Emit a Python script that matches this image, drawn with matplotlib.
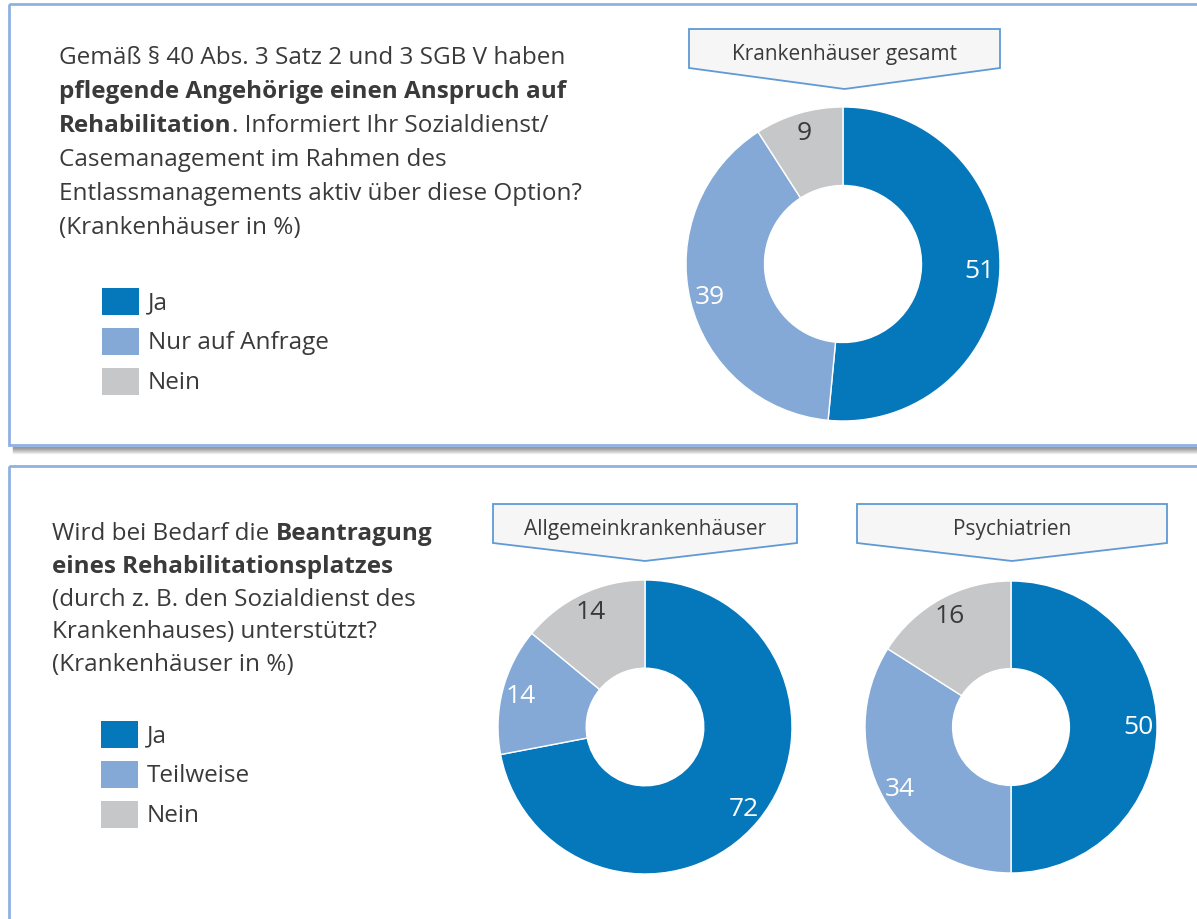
import numpy as np
import matplotlib
matplotlib.use("Agg")
import matplotlib.pyplot as plt
from matplotlib.patches import Polygon, Rectangle

# ─── Daten ───
top_labels = ["Ja", "Nur auf Anfrage", "Nein"]
top_values = [51, 39, 9]
top_title = "Krankenhäuser gesamt"

bottom_labels = ["Ja", "Teilweise", "Nein"]
allg_values = [72, 14, 14]
allg_title = "Allgemeinkrankenhäuser"
psych_values = [50, 34, 16]
psych_title = "Psychiatrien"

colors = ["#0577bb", "#84a9d6", "#c6c7c9"]
num_colors = ["white", "white", "#3a3a3a"]
text_col = "#3a3a3a"
frame_col = "#8fb1e2"
box_edge = "#5f9ad6"

W, H = 1197, 920
FONT = ["Open Sans", "DejaVu Sans"]
FS = 17.5
plt.rcParams["font.family"] = FONT

fig = plt.figure(figsize=(W / 100, H / 100), dpi=100)
bg = fig.add_axes([0, 0, 1, 1])
bg.set_xlim(0, W)
bg.set_ylim(H, 0)
bg.axis("off")

# ─── Rahmen ───
for i in range(7):
    bg.plot([13, W], [448 + i, 448 + i], color="#5f5f5f", alpha=0.6 * (1 - i / 7), lw=1, zorder=1)
bg.add_patch(Rectangle((9, 5), W + 20, 441, fill=False, ec=frame_col, lw=2, zorder=2))
bg.add_patch(Rectangle((9, 467), W + 20, 500, fill=False, ec=frame_col, lw=2, zorder=2))


def rich_line(x, y, parts):
    # parts: list of (text, bold)
    r = fig.canvas.get_renderer()
    for s, b in parts:
        t = bg.text(x, y, s, fontsize=FS, color=text_col, va="baseline", ha="left",
                    fontweight="bold" if b else "normal")
        bb = t.get_window_extent(renderer=r)
        x += bb.width


def donut(cx, cy, R, width, values, title, box):
    ax = fig.add_axes([(cx - R) / W, 1 - (cy + R) / H, 2 * R / W, 2 * R / H])
    ax.pie(values, colors=colors, startangle=90, counterclock=False,
           wedgeprops=dict(width=width, edgecolor="white", linewidth=1))
    ax.set_xlim(-1, 1)
    ax.set_ylim(-1, 1)
    total = sum(values)
    cum = 0
    for v, c in zip(values, num_colors):
        ang = np.deg2rad(90 - 360 * (cum + v / 2) / total)
        ax.text(0.87 * np.cos(ang), 0.87 * np.sin(ang), str(v), ha="center", va="center",
                fontsize=19, color=c)
        cum += v
    x0, x1, y0, y1, yt = box
    xt = (x0 + x1) / 2
    bg.add_patch(Polygon([(x0, y0), (x1, y0), (x1, y1), (xt, yt), (x0, y1)],
                         closed=True, fc="#f6f6f6", ec=box_edge, lw=1.3, zorder=3))
    bg.text(xt, (y0 + y1) / 2 + 5, title, ha="center", va="center", fontsize=FS * 0.86,
            color=text_col, zorder=4)


def legend(x, y0, labels):
    for i, (lab, c) in enumerate(zip(labels, colors)):
        y = y0 + 40 * i
        bg.add_patch(Rectangle((x, y), 37, 27, fc=c, ec="none", zorder=3))
        bg.text(x + 46, y + 14, lab, fontsize=FS, color=text_col, va="center", ha="left")


# ─── oberer Teil ───
tx = 59
lines_top = [
    [("Gemäß § 40 Abs. 3 Satz 2 und 3 SGB V haben", False)],
    [("pflegende Angehörige einen Anspruch auf", True)],
    [("Rehabilitation", True), (". Informiert Ihr Sozialdienst/", False)],
    [("Casemanagement im Rahmen des", False)],
    [("Entlassmanagements aktiv über diese Option?", False)],
    [("(Krankenhäuser in %)", False)],
]
for i, parts in enumerate(lines_top):
    rich_line(tx, 64 + 34 * i, parts)
legend(102, 289, top_labels)
donut(843, 265, 157, 0.5, top_values, top_title, (689, 1000, 30, 69, 90))

# ─── unterer Teil ───
lines_bottom = [
    [("Wird bei Bedarf die ", False), ("Beantragung", True)],
    [("eines Rehabilitationsplatzes", True)],
    [("(durch z. B. den Sozialdienst des", False)],
    [("Krankenhauses) unterstützt?", False)],
    [("(Krankenhäuser in %)", False)],
]
for i, parts in enumerate(lines_bottom):
    rich_line(52, 540 + 32.8 * i, parts)
legend(101, 722, bottom_labels)
donut(645, 728, 147, 0.6, allg_values, allg_title, (493, 797, 505, 544, 562))
donut(1011, 728, 146, 0.6, psych_values, psych_title, (857, 1167, 505, 544, 562))

plt.savefig("out.png", dpi=100)
